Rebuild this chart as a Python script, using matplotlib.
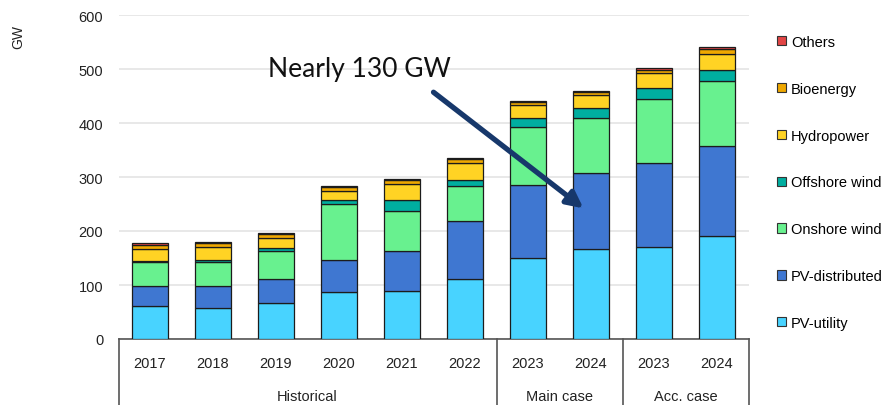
import numpy as np
import matplotlib.pyplot as plt
import matplotlib.patheffects as pe
from matplotlib.patches import Patch

plt.rcParams['font.family'] = ['Liberation Sans', 'DejaVu Sans']

# categories
years = ['2017', '2018', '2019', '2020', '2021', '2022', '2023', '2024', '2023', '2024']
groups = ['Historical', 'Main case', 'Acc. case']
group_sizes = [6, 2, 2]

# series (GW), bottom to top of the stack
pv_utility = [62, 57, 67, 87, 89, 112, 150, 167, 170, 190]
pv_distributed = [36, 42, 44, 60, 74, 107, 135, 140, 156, 167]
onshore = [44, 44, 52, 103, 74, 64, 108, 102, 118, 121]
offshore = [3, 4, 6, 7, 20, 11, 16, 18, 21, 20]
hydro = [22, 23, 18, 17, 30, 32, 24, 25, 28, 30]
bio = [8, 7, 7, 7, 8, 7, 5, 5, 5, 9]
others = [2, 3, 3, 3, 2, 2, 2, 3, 3, 3]

series = [
    ('PV-utility', pv_utility, '#48D3FF'),
    ('PV-distributed', pv_distributed, '#3F77D1'),
    ('Onshore wind', onshore, '#68F18F'),
    ('Offshore wind', offshore, '#00AEA0'),
    ('Hydropower', hydro, '#FFD324'),
    ('Bioenergy', bio, '#EFA800'),
    ('Others', others, '#E24545'),
]

fig = plt.figure(figsize=(8.96, 4.06), dpi=100)
ax = fig.add_axes([118.5 / 896, 66 / 406, 630 / 896, 324 / 406])

x = np.arange(len(years))
bottom = np.zeros(len(years))
handles = []
for name, vals, col in series:
    vals = np.array(vals, dtype=float)
    ax.bar(x, vals, 0.57, bottom=bottom, color=col, edgecolor='#1c1c1c',
           linewidth=0.9, zorder=3)
    bottom += vals
    handles.append(Patch(facecolor=col, edgecolor='#333333', linewidth=0.8, label=name))

ax.set_xlim(-0.5, len(years) - 0.5)
ax.set_ylim(0, 600)
ax.set_yticks(range(0, 601, 100))
ax.yaxis.grid(True, color='#e2e2e2', linewidth=1.1, zorder=0)
ax.tick_params(axis='y', length=0, pad=11, labelsize=10.5, labelcolor='#222222')
ax.set_xticks(x)
ax.set_xticklabels(years)
ax.tick_params(axis='x', length=0, pad=12, labelsize=10.5, labelcolor='#222222')
for s in ['left', 'right', 'top']:
    ax.spines[s].set_visible(False)
ax.spines['bottom'].set_color('#555555')
ax.spines['bottom'].set_linewidth(1.2)

# category group box below the axis
trans = ax.get_xaxis_transform()
edges = np.concatenate([[0], np.cumsum(group_sizes)]) - 0.5
for e in edges:
    ax.plot([e, e], [0, -0.25], transform=trans, color='#555555', lw=1.2,
            clip_on=False, zorder=5)
for g, a, b in zip(groups, edges[:-1], edges[1:]):
    ax.text((a + b) / 2, -0.176, g, transform=trans, ha='center', va='center',
            fontsize=10.5, color='#222222')

fig.text(18 / 896, 1 - 37 / 406, 'GW', rotation=90, ha='center', va='center',
         fontsize=10, color='#222222')

# annotation
ax.text(1.87, 500, 'Nearly 130 GW', fontsize=19, family=['Lato', 'DejaVu Sans'],
        ha='left', va='center', color='#111111', zorder=6)
ax.annotate('', xy=(6.88, 242), xytext=(4.5, 457),
            arrowprops=dict(arrowstyle='-|>', color='#17386B', lw=3.8,
                            mutation_scale=24, shrinkA=0, shrinkB=0,
                            path_effects=[pe.SimplePatchShadow(offset=(2, -2), alpha=0.3),
                                          pe.Normal()]),
            zorder=6)

fig.legend(handles=handles[::-1], loc='upper left', bbox_to_anchor=(777 / 896, 1 - 36 / 406),
           frameon=False, fontsize=10.5, handlelength=0.6, handleheight=0.6,
           handletextpad=0.35, labelspacing=2.25, borderpad=0, borderaxespad=0)

fig.savefig('out.png', dpi=100)
